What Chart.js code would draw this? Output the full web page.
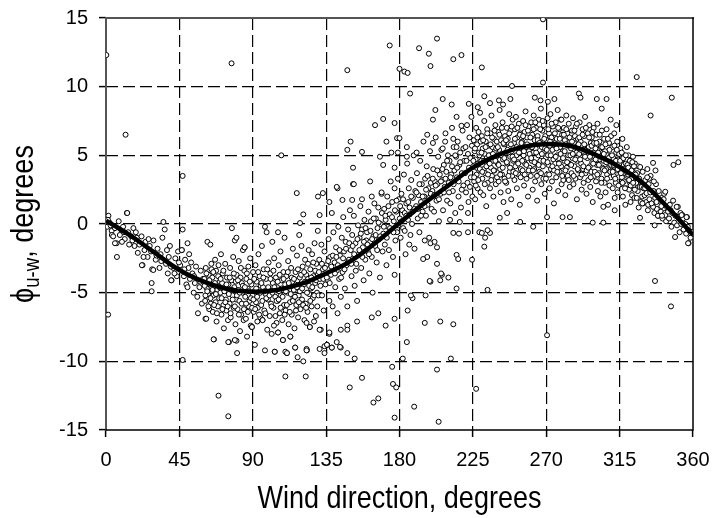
<!DOCTYPE html>
<html>
<head>
<meta charset="utf-8">
<script src="https://cdn.jsdelivr.net/npm/chart.js@4/dist/chart.umd.min.js"></script>
<style>
  html, body { margin: 0; padding: 0; background: #fff; }
  canvas { display: block; }
</style>
</head>
<body>
<canvas id="c" width="712" height="518"></canvas>
<script>
// ---------- DATA ----------
const xTicks = [0, 45, 90, 135, 180, 225, 270, 315, 360];
const yTicks = [-15, -10, -5, 0, 5, 10, 15];
const xTitle = 'Wind direction, degrees';
const yTitleMain = '\u03D5';
const yTitleSub = 'u-w';
const yTitleTail = ', degrees';

// fitted curve: [wind direction, phi]
const fitCurve = [
  [0,0.25],[15,-0.85],[30,-2.1],[45,-3.35],[60,-4.2],[75,-4.75],[90,-4.93],[105,-4.8],
  [120,-4.35],[135,-3.6],[150,-2.7],[165,-1.4],[180,0.07],[195,1.5],[210,2.8],[225,4.1],
  [240,5.0],[255,5.6],[270,5.83],[285,5.68],[300,5.05],[315,4.15],[330,2.9],[345,1.15],[360,-0.8]
];

// observations 0-60 deg
const obsNorthEast = [
  [0.3,0.4],[0.8,-0.2],[1.5,0.6],[2.2,0.1],[3.5,-0.5],[1.2,0.3],[5.5,-0.3],[6.5,-1.4],[7.8,0.2],[8.5,-0.8],
  [9.2,-0.4],[10.5,-0.2],[11.5,-1.1],[12.8,0.8],[13.6,-0.6],[14.2,-1.5],[15.5,-0.9],[16.8,-0.3],[17.5,-1.6],
  [18.9,-1.0],[19.5,-2.1],[20.5,-1.5],[21.8,-0.9],[22.4,-3.0],[23.6,-1.9],[24.2,-1.3],[25.5,-2.4],[26.8,-1.6],
  [27.6,-2.0],[28.3,-3.3],[29.1,-1.2],[30.5,-2.6],[31.6,-1.8],[32.8,-3.2],[33.5,-2.2],[34.6,-1.0],[35.2,0.15],
  [36.0,-0.4],[36.8,-2.9],[37.9,-3.6],[38.5,-2.4],[39.2,-1.6],[40.2,-4.1],[41.3,-3.2],[42.5,-2.5],[43.4,-3.8],
  [44.2,-2.0],[5.5,-1.4],[6.7,-2.4],[3.6,-0.8],[28,-4.3],[28,-4.9],[29,-3.35],[22,-3.0],[13,0.8],
  [45.5,-3.0],[46.5,-1.9],[47,-0.4],[47.8,-3.8],[48.5,-2.6],[49.3,-4.4],[50,-1.4],[50.6,-3.2],[51.5,-4.0],
  [52.2,-2.8],[53,-3.6],[53.8,-5.0],[54.5,-4.3],[55.2,-3.1],[56,-5.3],[56.4,-6.5],[57.3,-4.6],[58.1,-3.4],
  [58.8,-5.8],[59.5,-4.0],[46.5,-1.9],[50,-4.6],[40,-4.1],[61,-6.9],
  [2.8,-0.1],[4.4,-0.9],[9.8,-1.3],[11.0,-0.6],[16.2,-1.2],[18.3,-0.6],[23.0,-2.4],[26.1,-1.1],[31.0,-2.3],
  [33.9,-2.7],[37.4,-1.9],[39.8,-3.1],[42.0,-3.6],[44.7,-2.8],[48.0,-3.3],[51.0,-2.2],[54.0,-3.8],[57.8,-4.2]
];

// observations 60-130 deg
const obsEast = [
  [60.3,-4.0],[60.8,-5.6],[61.2,-3.2],[61.5,-6.9],[61.9,-4.7],[62.2,-1.3],[62.6,-5.1],[63.0,-3.7],[63.3,-6.2],[63.7,-4.4],[64.0,-1.5],[64.3,-5.8],[64.6,-2.9],[64.9,-4.9],
  [65.2,-3.9],[65.5,-6.4],[65.9,-5.2],[66.2,-8.4],[66.5,-4.5],[66.9,-2.6],[67.2,-5.7],[67.5,-3.4],[67.8,-7.1],[68.2,-4.8],[68.6,-6.0],[69.0,-3.0],[69.4,-5.4],[69.8,-4.2],
  [70.1,-5.0],[70.5,-2.2],[70.8,-6.6],[71.2,-4.3],[71.6,-3.6],[72.0,-5.9],[72.3,-7.6],[72.7,-4.7],[73.1,-2.9],[73.5,-5.5],[73.8,-6.3],[74.2,-3.9],[74.5,-4.9],[74.8,-7.0],
  [75.1,-4.4],[75.4,-8.6],[75.8,-5.8],[76.1,-3.2],[76.5,-6.8],[76.9,-4.1],[77.2,-0.3],[77.6,-5.2],[78.0,-2.4],[78.3,-6.1],[78.7,-4.6],[79.0,-1.2],[79.4,-7.3],[79.8,-5.5],
  [80.1,-3.7],[80.4,-9.4],[80.7,-6.2],[81.1,-4.8],[81.4,-2.7],[81.8,-5.6],[82.2,-7.8],[82.5,-3.9],[82.9,-6.6],[83.3,-4.3],[83.7,-5.0],[84.0,-1.9],[84.4,-7.0],[84.8,-3.4],
  [85.0,-1.7],[85.4,-5.3],[85.8,-6.9],[86.1,-4.0],[86.5,-8.2],[86.9,-4.7],[87.3,-3.1],[87.6,-6.0],[88.0,-5.6],[88.4,-2.5],[88.8,-7.4],[89.2,-4.4],[89.5,-7.5],[89.9,-5.2],
  [90.2,-3.5],[90.6,-6.4],[90.9,-4.9],[91.3,-8.8],[91.7,-3.0],[92.0,-5.7],[92.4,-4.2],[92.8,-7.1],[93.1,-6.1],[93.5,-2.2],[93.9,-5.0],[94.2,-3.8],[94.6,-6.8],[94.9,-4.5],
  [95.2,-5.9],[95.6,-1.6],[96.0,-7.0],[96.3,-4.6],[96.7,-3.3],[97.1,-6.3],[97.5,-9.2],[97.5,-0.2],[97.9,-5.1],[98.2,-4.0],[98.5,-0.6],[98.9,-7.7],[99.3,-5.5],[99.7,-2.8],
  [100.1,-4.8],[100.4,-6.7],[100.8,-3.6],[101.2,-5.8],[101.6,-8.0],[102.0,-1.3],[102.3,-4.3],[102.7,-6.1],[103.1,-2.5],[103.5,-9.3],[103.8,-5.3],[104.2,-3.9],[104.6,-7.2],[104.9,-4.6],
  [105.2,-5.6],[105.5,-7.9],[105.9,-3.0],[106.2,-4.9],[106.6,-6.5],[107.0,-2.0],[107.3,-5.2],[107.7,-4.1],[108.1,-7.0],[108.5,-8.45],[108.8,-3.5],[109.2,-5.9],[109.5,-1.0],[109.9,-4.4],
  [110.2,-6.3],[110.6,-3.8],[110.9,-9.4],[111.3,-5.0],[111.7,-2.7],[112.0,-7.3],[112.4,-4.5],[112.8,-5.7],[113.1,-8.2],[113.5,-3.2],[113.9,-6.6],[114.2,-4.2],[114.6,-1.8],[114.9,-5.4],
  [115.2,-4.8],[115.6,-7.6],[116.0,-9.0],[116.3,-3.5],[116.7,-5.9],[117.1,-2.3],[117.4,-4.1],[117.8,-6.8],[118.2,-5.2],[118.5,-0.8],[118.9,-3.9],[119.3,-6.2],[119.6,-4.6],[119.9,-1.6],
  [120.2,-5.5],[120.6,-3.1],[121.0,-10.0],[121.3,-4.4],[121.7,-7.0],[122.1,-2.6],[122.5,-5.8],[122.8,-3.7],[123.2,-9.2],[123.6,-6.4],[123.9,-4.0],[124.3,-1.9],[124.6,-5.1],[125.0,-7.5],
  [125.3,-3.3],[125.7,-4.7],[126.1,-6.0],[126.4,-2.2],[126.8,-5.4],[127.2,-3.8],[127.6,-7.1],[127.9,-1.4],[128.3,-4.3],[128.7,-6.7],[129.0,-2.9],[129.4,-5.0],[129.8,-3.6],[129.9,-0.5]
];

// dense core 60-130 deg
const obsEastCore = [
  [60.5,-4.5],[61.0,-5.2],[61.6,-3.6],[62.1,-4.9],[62.8,-6.0],[63.4,-4.1],[64.1,-5.4],[64.7,-3.3],
  [65.3,-4.8],[65.8,-3.5],[66.3,-5.9],[66.8,-4.3],[67.4,-5.1],[68.0,-6.5],[68.8,-3.8],[69.5,-4.6],
  [70.3,-4.0],[70.9,-5.4],[71.4,-6.2],[72.0,-3.4],[72.6,-4.9],[73.2,-5.7],[73.9,-4.4],[74.6,-6.0],
  [75.3,-5.1],[75.9,-3.9],[76.4,-6.5],[77.0,-4.8],[77.7,-5.5],[78.4,-3.6],[79.0,-6.0],[79.6,-4.2],
  [80.3,-5.2],[80.9,-4.1],[81.5,-6.6],[82.0,-5.0],[82.7,-3.2],[83.3,-5.8],[83.9,-4.5],[84.6,-6.2],
  [85.2,-4.6],[85.9,-5.8],[86.4,-3.6],[87.0,-6.4],[87.6,-4.9],[88.2,-4.2],[88.9,-5.4],[89.6,-6.1],
  [90.4,-5.5],[90.9,-4.0],[91.5,-6.2],[92.1,-4.7],[92.7,-5.3],[93.3,-3.5],[93.9,-6.6],[94.6,-5.0],
  [95.3,-4.3],[95.9,-5.6],[96.5,-3.9],[97.1,-4.9],[97.7,-6.5],[98.3,-5.4],[98.9,-3.3],[99.5,-4.6],
  [100.3,-5.2],[100.9,-4.0],[101.5,-6.0],[102.1,-5.0],[102.7,-3.4],[103.3,-4.6],[103.9,-6.7],[104.6,-5.6],
  [105.3,-4.2],[105.9,-5.5],[106.5,-3.7],[107.1,-6.1],[107.7,-4.7],[108.3,-5.3],[108.9,-4.0],[109.6,-6.6],
  [110.3,-4.9],[110.9,-5.9],[111.5,-3.5],[112.1,-4.3],[112.7,-6.4],[113.3,-5.1],[113.9,-3.9],[114.6,-5.6],
  [115.3,-4.0],[115.9,-5.3],[116.5,-6.3],[117.1,-4.6],[117.7,-3.3],[118.3,-5.7],[118.9,-4.9],[119.6,-3.7],
  [120.3,-4.7],[120.9,-5.9],[121.5,-3.5],[122.1,-4.2],[122.7,-6.1],[123.3,-5.0],[123.9,-2.9],[124.6,-4.5],
  [125.3,-5.6],[125.9,-3.9],[126.5,-4.6],[127.1,-2.8],[127.7,-5.2],[128.3,-3.4],[128.9,-4.1],[129.6,-6.0]
];

// observations 130-220 deg
const obsSouth = [
  [130.3,-5.2],[130.8,-2.6],[131.2,-4.0],[131.7,-7.7],[132.1,-1.5],[132.5,-5.2],[133,-3.3],[133.5,-6.3],[134,-2.0],[134.6,-4.4],
  [135.2,-3.0],[135.6,-8.8],[136.1,-4.1],[136.5,-1.1],[137.0,-5.6],[137.5,-2.4],[138.0,-3.7],[138.5,-9.0],[139.0,-6.0],[139.5,-0.6],
  [140.2,-2.8],[140.6,-4.6],[141.1,-1.7],[141.5,-3.4],[142.0,-6.5],[142.5,-0.2],[143.0,-4.0],[143.5,-2.3],[144.0,-5.3],[144.6,-1.0],
  [145.1,-3.5],[145.5,0.5],[146.0,-2.0],[146.5,-4.7],[147.0,-1.3],[147.5,-3.0],[148.0,-6.0],[148.5,-0.4],[149.0,-2.6],[149.6,1.0],
  [150.1,-1.9],[150.6,-3.8],[151.0,-0.8],[151.5,-2.5],[152.0,0.6],[152.5,-4.5],[153.0,-1.4],[153.5,-2.9],[154.0,-5.6],[154.6,-0.1],
  [155.1,-2.2],[155.5,-1.0],[156.0,1.3],[156.5,-3.2],[157.0,-0.4],[157.5,-1.7],[158.0,-4.1],[158.5,0.3],[159.0,-2.6],[159.6,-1.2],
  [160.1,-0.6],[160.6,-2.0],[161.0,0.9],[161.5,-3.6],[162.0,-1.3],[162.5,0.2],[163.0,-2.4],[163.5,-5.0],[164.0,-0.9],[164.6,1.5],
  [165.1,-1.6],[165.5,0.4],[166.0,-2.8],[166.5,-0.3],[167.0,1.2],[167.5,-1.1],[168.0,-3.9],[168.5,0.0],[169.0,2.2],[169.6,-2.0],
  [170.1,-0.7],[170.6,1.1],[171.0,-1.5],[171.5,0.3],[172.0,-3.0],[172.5,2.0],[173.0,-0.2],[173.5,-1.9],[174.0,0.7],[174.6,3.1],
  [175.1,-0.4],[175.5,1.6],[176.0,-2.4],[176.5,0.2],[177.0,2.6],[177.5,-1.2],[178.0,0.9],[178.5,-0.6],[179.0,3.3],[179.6,1.8],
  [180.2,0.4],[180.7,-1.0],[181.2,2.2],[181.7,1.0],[182.2,-0.3],[182.7,3.6],[183.2,0.8],[183.7,-2.2],[184.2,1.5],[184.7,4.4],
  [185.2,0.3],[185.7,2.6],[186.2,1.2],[186.7,-0.8],[187.2,3.2],[187.7,0.0],[188.2,1.9],[188.7,5.0],[189.2,-1.8],[189.7,2.4],
  [190.2,1.3],[190.7,3.7],[191.2,0.4],[191.7,2.1],[192.2,-0.6],[192.7,4.6],[193.2,1.6],[193.7,2.9],[194.2,0.9],[194.7,6.0],
  [195.2,2.0],[195.7,3.3],[196.2,0.6],[196.7,4.2],[197.2,1.4],[197.7,2.6],[198.2,-1.0],[198.7,5.3],[199.2,3.0],[199.7,1.1],
  [200.2,2.4],[200.7,4.0],[201.2,0.9],[201.7,3.1],[202.2,6.3],[202.7,1.7],[203.2,2.9],[203.7,4.9],[204.2,0.2],[204.7,3.6],
  [205.2,2.2],[205.7,5.4],[206.2,3.2],[206.7,1.0],[207.2,4.3],[207.7,2.7],[208.2,6.6],[208.7,3.8],[209.2,1.7],[209.7,5.0],
  [210.2,3.0],[210.7,4.6],[211.2,1.5],[211.7,3.6],[212.2,7.0],[212.7,2.4],[213.2,5.6],[213.7,3.9],[214.2,0.8],[214.7,4.9],
  [215.2,3.4],[215.7,6.0],[216.2,2.0],[216.7,4.3],[217.2,5.2],[217.7,1.2],[218.2,3.7],[218.7,6.8],[219.2,2.8],[219.7,4.6]
];

// dense core 130-220 deg
const obsSouthCore = [
  [130.6,-3.5],[131.5,-4.5],[132.4,-2.9],[133.3,-4.0],[134.3,-3.2],[135.4,-3.9],[136.3,-2.7],[137.2,-4.3],[138.2,-3.1],[139.1,-2.3],
  [140.4,-3.6],[141.3,-2.4],[142.2,-3.0],[143.2,-1.9],[144.2,-3.9],[145.4,-2.5],[146.3,-3.3],[147.2,-1.8],[148.2,-2.8],[149.2,-1.4],
  [150.4,-2.9],[151.3,-1.6],[152.2,-2.2],[153.2,-3.4],[154.2,-1.1],[155.4,-1.9],[156.3,-0.7],[157.2,-2.4],[158.2,-1.3],[159.2,-0.3],
  [160.4,-1.5],[161.3,-2.2],[162.2,-0.5],[163.2,-1.1],[164.2,0.4],[165.4,-0.8],[166.3,-1.9],[167.2,0.1],[168.2,-0.9],[169.2,0.8],
  [170.4,-0.2],[171.3,0.6],[172.2,-1.0],[173.2,1.3],[174.2,-0.3],[175.4,0.5],[176.3,-0.6],[177.2,1.0],[178.2,1.7],[179.2,-0.1],
  [180.4,1.3],[181.3,0.2],[182.2,1.8],[183.2,-0.5],[184.2,0.6],[185.4,1.6],[186.3,0.7],[187.2,2.0],[188.2,0.9],[189.2,1.1],
  [190.4,2.3],[191.3,1.1],[192.2,2.9],[193.2,0.6],[194.2,2.0],[195.4,1.3],[196.3,2.5],[197.2,3.5],[198.2,1.9],[199.2,2.2],
  [200.4,3.3],[201.3,2.1],[202.2,2.8],[203.2,3.9],[204.2,1.8],[205.4,3.1],[206.3,4.0],[207.2,2.3],[208.2,3.3],[209.2,4.6],
  [210.4,2.3],[211.3,3.4],[212.2,4.2],[213.2,2.9],[214.2,5.0],[215.4,4.1],[216.3,3.1],[217.2,4.5],[218.2,2.5],[219.2,5.5]
];

// observations 220-330 deg
const obsWest = [
  [220.2,3.7],[220.5,5.6],[220.8,2.3],[221.1,4.6],[221.4,7.2],[221.7,3.0],[222.0,5.1],[222.3,1.6],[222.6,4.1],[222.9,6.3],[223.2,2.7],[223.5,4.8],[223.8,3.4],[224.1,7.8],[224.4,5.7],[224.7,2.0],
  [225.2,4.2],[225.5,6.1],[225.8,3.1],[226.1,5.3],[226.4,1.8],[226.7,4.7],[227.0,7.0],[227.3,3.6],[227.6,5.8],[227.9,2.6],[228.2,4.4],[228.5,6.7],[228.8,3.9],[229.1,5.0],[229.4,8.1],[229.7,2.3],
  [230.2,4.6],[230.5,6.4],[230.8,3.3],[231.1,5.5],[231.4,2.1],[231.7,4.0],[232.0,7.5],[232.3,5.1],[232.6,3.7],[232.9,6.0],[233.2,1.3],[233.5,4.8],[233.8,6.9],[234.1,3.0],[234.4,5.7],[234.7,4.3],
  [235.2,5.0],[235.5,2.6],[235.8,6.6],[236.1,4.1],[236.4,7.9],[236.7,3.5],[237.0,5.6],[237.3,4.6],[237.6,2.0],[237.9,6.2],[238.2,3.9],[238.5,5.3],[238.8,7.2],[239.1,2.9],[239.4,4.9],[239.7,6.0],
  [240.2,4.4],[240.5,6.7],[240.8,3.1],[241.1,5.4],[241.4,8.3],[241.7,4.0],[242.0,2.3],[242.3,6.1],[242.6,5.0],[242.9,3.6],[243.2,7.4],[243.5,4.7],[243.8,1.6],[244.1,5.8],[244.4,3.3],[244.7,6.4],
  [245.2,5.2],[245.5,3.0],[245.8,7.0],[246.1,4.4],[246.4,6.2],[246.7,2.4],[247.0,5.6],[247.3,8.0],[247.6,3.8],[247.9,4.9],[248.2,6.8],[248.5,1.8],[248.8,5.3],[249.1,3.5],[249.4,7.6],[249.7,4.6],
  [250.2,5.9],[250.5,3.2],[250.8,6.9],[251.1,4.2],[251.4,7.8],[251.7,5.0],[252.0,2.6],[252.3,6.3],[252.6,4.5],[252.9,3.6],[253.2,7.3],[253.5,5.5],[253.8,1.4],[254.1,6.6],[254.4,4.0],[254.7,5.2],
  [255.2,6.0],[255.5,3.9],[255.8,7.5],[256.1,5.0],[256.4,2.8],[256.7,6.7],[257.0,4.4],[257.3,8.2],[257.6,5.6],[257.9,3.3],[258.2,6.3],[258.5,4.8],[258.8,2.0],[259.1,7.1],[259.4,5.3],[259.7,4.1],
  [260.2,5.7],[260.5,3.5],[260.8,7.4],[261.1,4.6],[261.4,6.5],[261.7,2.5],[262.0,5.2],[262.3,7.9],[262.6,4.0],[262.9,6.1],[263.2,3.1],[263.5,5.5],[263.8,7.0],[264.1,4.4],[264.4,1.7],[264.7,6.4],
  [265.2,5.0],[265.5,7.6],[265.8,3.8],[266.1,6.0],[266.4,4.6],[266.7,8.4],[267.0,2.9],[267.3,5.6],[267.6,6.8],[267.9,4.2],[268.2,3.3],[268.5,7.2],[268.8,5.3],[269.1,2.2],[269.4,6.4],[269.7,4.8],
  [270.2,6.1],[270.5,3.6],[270.8,7.7],[271.1,5.0],[271.4,4.3],[271.7,6.6],[272.0,2.6],[272.3,5.7],[272.6,8.0],[272.9,4.0],[273.2,6.3],[273.5,3.1],[273.8,5.4],[274.1,7.1],[274.4,4.7],[274.7,1.5],
  [275.2,5.9],[275.5,4.4],[275.8,7.4],[276.1,3.4],[276.4,6.2],[276.7,5.0],[277.0,8.3],[277.3,2.4],[277.6,4.8],[277.9,6.9],[278.2,3.8],[278.5,5.6],[278.8,7.6],[279.1,4.2],[279.4,2.9],[279.7,6.5],
  [280.2,5.3],[280.5,3.2],[280.8,7.0],[281.1,4.6],[281.4,6.1],[281.7,2.1],[282.0,5.8],[282.3,7.9],[282.6,4.1],[282.9,6.6],[283.2,3.5],[283.5,5.0],[283.8,7.3],[284.1,4.4],[284.4,2.7],[284.7,6.0],
  [285.2,5.5],[285.5,3.7],[285.8,6.8],[286.1,4.8],[286.4,7.7],[286.7,2.9],[287.0,5.9],[287.3,4.2],[287.6,6.4],[287.9,3.3],[288.2,7.1],[288.5,5.2],[288.8,1.8],[289.1,4.6],[289.4,6.2],[289.7,3.9],
  [290.2,5.1],[290.5,7.4],[290.8,3.4],[291.1,6.0],[291.4,4.4],[291.7,2.5],[292.0,5.7],[292.3,6.9],[292.6,4.0],[292.9,3.0],[293.2,6.4],[293.5,5.0],[293.8,7.8],[294.1,3.7],[294.4,5.4],[294.7,2.2],
  [295.2,4.8],[295.5,6.6],[295.8,3.2],[296.1,5.6],[296.4,7.2],[296.7,4.2],[297.0,2.7],[297.3,5.9],[297.6,3.8],[297.9,6.3],[298.2,4.5],[298.5,1.6],[298.8,5.2],[299.1,7.0],[299.4,3.5],[299.7,4.9],
  [300.2,5.5],[300.5,3.1],[300.8,6.5],[301.1,4.3],[301.4,7.3],[301.7,2.4],[302.0,5.0],[302.3,3.7],[302.6,6.0],[302.9,4.7],[303.2,2.0],[303.5,5.6],[303.8,3.3],[304.1,6.8],[304.4,4.1],[304.7,5.2],
  [305.2,4.6],[305.5,6.2],[305.8,3.0],[306.1,5.3],[306.4,2.3],[306.7,4.0],[307.0,6.9],[307.3,3.6],[307.6,5.0],[307.9,1.4],[308.2,4.4],[308.5,5.9],[308.8,2.8],[309.1,4.9],[309.4,3.4],[309.7,6.4],
  [310.2,4.2],[310.5,5.6],[310.8,2.6],[311.1,4.8],[311.4,3.5],[311.7,6.6],[312.0,1.9],[312.3,4.5],[312.6,3.0],[312.9,5.2],[313.2,3.9],[313.5,6.0],[313.8,2.3],[314.1,4.7],[314.4,3.4],[314.7,5.1],
  [315.2,4.0],[315.5,5.5],[315.8,2.9],[316.1,4.6],[316.4,3.4],[316.7,6.2],[317.0,2.0],[317.3,4.3],[317.6,3.1],[317.9,5.0],[318.2,3.7],[318.5,1.4],[318.8,4.4],[319.1,2.6],[319.4,5.6],[319.7,3.5],
  [320.2,3.6],[320.5,5.0],[320.8,2.5],[321.1,4.2],[321.4,3.0],[321.7,1.6],[322.0,4.7],[322.3,3.3],[322.6,2.1],[322.9,4.0],[323.2,4.9],[323.5,2.8],[323.8,3.7],[324.1,1.9],[324.4,4.4],[324.7,3.1],
  [325.2,3.0],[325.5,1.9],[325.8,3.7],[326.1,2.4],[326.4,4.2],[326.7,1.2],[327.0,3.3],[327.3,2.7],[327.6,4.15],[327.9,1.6],[328.2,3.0],[328.5,2.7],[328.8,2.0],[329.1,3.8],[329.4,1.5],[329.7,2.6]
];

// dense core 225-325 deg
const obsWestCore = [
  [225.3,4.6],[225.8,3.4],[226.3,5.5],[226.8,2.8],[227.3,4.1],[227.8,6.3],[228.3,3.2],[228.8,5.2],[229.3,4.0],[229.8,6.0],
  [230.3,5.2],[230.8,3.8],[231.3,6.1],[231.8,4.6],[232.3,2.9],[232.8,5.6],[233.3,4.2],[233.8,6.6],[234.3,3.6],[234.8,5.0],
  [235.3,4.4],[235.8,5.8],[236.3,3.2],[236.8,6.3],[237.3,5.1],[237.8,3.9],[238.3,6.8],[238.8,4.6],[239.3,5.5],[239.8,3.4],
  [240.3,5.6],[240.8,4.3],[241.3,6.5],[241.8,3.6],[242.3,5.0],[242.8,7.0],[243.3,4.1],[243.8,5.9],[244.3,4.8],[244.8,3.1],
  [245.3,6.1],[245.8,4.5],[246.3,5.4],[246.8,3.5],[247.3,6.6],[247.8,4.1],[248.3,5.8],[248.8,7.1],[249.3,4.9],[249.8,3.8],
  [250.3,4.7],[250.8,6.2],[251.3,3.7],[251.8,5.6],[252.3,7.0],[252.8,4.4],[253.3,5.2],[253.8,6.5],[254.3,3.4],[254.8,5.9],
  [255.3,4.6],[255.8,6.4],[256.3,5.3],[256.8,3.6],[257.3,7.2],[257.8,4.3],[258.3,5.8],[258.8,6.8],[259.3,3.9],[259.8,5.1],
  [260.3,6.3],[260.8,4.8],[261.3,5.6],[261.8,3.9],[262.3,6.9],[262.8,4.5],[263.3,7.4],[263.8,5.2],[264.3,3.5],[264.8,6.1],
  [265.3,4.3],[265.8,5.9],[266.3,6.9],[266.8,3.7],[267.3,5.1],[267.8,7.5],[268.3,4.6],[268.8,6.2],[269.3,5.5],[269.8,3.3],
  [270.3,5.4],[270.8,4.5],[271.3,6.9],[271.8,3.6],[272.3,6.0],[272.8,5.0],[273.3,7.3],[273.8,4.2],[274.3,5.8],[274.8,3.9],
  [275.3,6.6],[275.8,4.9],[276.3,5.5],[276.8,3.8],[277.3,7.0],[277.8,4.4],[278.3,6.2],[278.8,5.1],[279.3,7.6],[279.8,3.5],
  [280.3,4.8],[280.8,6.5],[281.3,5.3],[281.8,3.9],[282.3,6.9],[282.8,4.5],[283.3,5.7],[283.8,3.2],[284.3,6.3],[284.8,5.0],
  [285.3,4.3],[285.8,6.0],[286.3,5.1],[286.8,3.5],[287.3,6.8],[287.8,4.7],[288.3,5.6],[288.8,7.3],[289.3,4.0],[289.8,5.8],
  [290.3,6.3],[290.8,4.7],[291.3,5.4],[291.8,3.6],[292.3,6.5],[292.8,4.2],[293.3,5.8],[293.8,4.9],[294.3,7.0],[294.8,3.9],
  [295.3,5.3],[295.8,4.1],[296.3,6.3],[296.8,4.9],[297.3,3.4],[297.8,5.7],[298.3,6.7],[298.8,4.4],[299.3,5.9],[299.8,3.8],
  [300.3,4.7],[300.8,5.9],[301.3,3.6],[301.8,5.2],[302.3,4.3],[302.8,6.5],[303.3,4.9],[303.8,3.0],[304.3,5.6],[304.8,4.0],
  [305.3,5.1],[305.8,3.9],[306.3,5.8],[306.8,4.5],[307.3,3.3],[307.8,6.2],[308.3,4.8],[308.8,5.4],[309.3,3.8],[309.8,4.3],
  [310.3,5.0],[310.8,3.8],[311.3,4.3],[311.8,5.7],[312.3,3.3],[312.8,4.6],[313.3,5.4],[313.8,4.0],[314.3,2.8],[314.8,4.4],
  [315.3,4.6],[315.8,3.7],[316.3,5.2],[316.8,3.0],[317.3,4.8],[317.8,4.0],[318.3,2.6],[318.8,5.0],[319.3,3.8],[319.8,4.3],
  [320.3,4.1],[320.8,3.2],[321.3,4.6],[321.8,2.8],[322.3,3.9],[322.8,4.5],[323.3,3.0],[323.8,4.2],[324.3,2.5],[324.8,3.6]
];

// observations 330-360 deg
const obsNorthWest = [
  [330.3,2.1],[330.8,3.2],[331.3,1.6],[331.8,2.6],[332.3,1.0],[332.8,2.9],[333.3,1.8],[334.0,3.5],
  [335.3,1.3],[335.8,2.4],[336.3,0.8],[336.8,1.9],[337.3,2.9],[337.8,1.1],[338.5,0.6],[339.2,1.7],
  [340.3,0.9],[340.8,1.9],[341.3,0.4],[341.8,1.4],[342.3,2.2],[342.8,0.8],[343.5,0.2],[344.2,1.2],
  [345.3,0.4],[345.8,1.4],[346.3,1.0],[346.8,-0.2],[347.3,0.8],[347.8,1.7],[348.5,0.1],[349.2,0.6],
  [350.2,-0.1],[350.7,1.25],[351.3,0.4],[351.8,-0.6],[352.3,0.8],[352.8,0.0],[353.5,0.65],[354.2,-0.4],
  [355.3,0.0],[355.8,-0.7],[356.3,0.5],[356.8,-0.2],[357.3,-1.4],[357.8,-0.5],[358.5,-1.0],[359.2,-0.6],
  [348,4.3],[351,4.5],[343,2.35],[335.5,4.45],[337,3.9],[333,3.3],[332,4.0],[349,-0.95],[357,-1.4],
  [354,0.4],[356,0.5],[353,0.65],[350,1.25],[346,1.0],[343,0.65],[338.5,0.6],[341,0.6],[335.5,1.25],
  [332.5,1.4],[329,1.5],[331.5,2.25],[336.7,-4.15],[346.5,-6.0],
  [330.6,2.6],[331.9,3.4],[333.8,2.3],[334.6,1.5],[336.0,3.1],[337.6,1.6],[339.0,2.4],[340.6,1.3],[342.0,1.8],[344.7,0.9]
];

// scattered outliers
const obsOutliers = [
  [0.2,12.3],[12,6.5],[47,3.5],[1.3,-6.6],[47,-9.9],[69,-12.5],[75,-14],[77,11.7],[66,-8.4],[75,-8.6],[80,-8.5],
  [107.5,5.0],[117,2.25],[121,0.7],[130,2.0],[133,2.25],[137,1.6],[142,2.6],[145,1.75],[151,1.75],[157,1.8],
  [151.5,2.9],[151.5,4.1],[150,6.0],[148,5.4],[157,5.25],[165,7.2],[170,7.65],[172,6.0],[177,7.35],[178.5,6.25],
  [180,6.25],[168,4.9],[170,4.3],[175,5.2],[177,4.1],[179,5.2],[184.5,5.6],[184.5,4.9],[190.5,5.2],[197,6.5],
  [200.5,5.9],[163,2.0],[169,2.3],[162,3.1],
  [199,-1.4],[203,-1.7],[197,-2.4],[206,-3.7],[205,-4.1],[199,-4.2],[196,-5.2],[188,-5.4],[177,-3.7],[186,-1.5],
  [174,13.0],[192,12.8],[203,13.5],[198,12.4],[199,11.5],[213,12.0],[218,12.3],[230.5,11.4],[180,11.3],[183,11.1],
  [185,11.0],[148,11.2],[186.5,9.5],[206.5,9.1],[212,8.7],[202,8.3],[222.5,8.75],[228,8.5],[232,9.3],[200.5,7.6],
  [215,7.8],[218,7.15],
  [110,-11.1],[122.5,-11.1],[149.5,-11.9],[157,-11.2],[164,-13.0],[167,-12.7],[175.5,-10.4],[176,-11.65],[178,-11.9],
  [177,-14.1],[189,-13.3],[203,-10.6],[204,-14.4],[227,-12.0],[182,-9.8],[211.5,-9.8],[152.5,-9.8],[184.5,-8.6],
  [195.5,-7.2],[205,-7.1],[213,-7.3],[185,-6.3],[177,-6.9],[171.5,-7.4],[163,-6.8],[167,-6.5],[154,-7.1],[148,-7.4],
  [148,-7.7],[144,-7.7],[141.5,-8.6],[144,-9.0],[148,-9.4],[137,-8.0],[134,-8.9],[131,-9.1],[134,-9.4],[123,-9.1],
  [117.5,-9.7],[110,-9.3],[113,-8.2],[105.5,-7.9],[103,-7.4],
  [249,10.05],[268,10.3],[235.5,8.8],[241,9.0],[243.5,8.7],[248,9.1],[263,9.2],[266.5,9.0],[271,8.9],[275,9.1],
  [290,9.5],[291,9.2],[301,9.1],[307,9.1],[304,8.4],[309.5,7.6],[208,6.0],[213,6.2],[215,5.6],[206.5,5.5],
  [211,0.3],[217,0.15],[222,0.8],[241.5,0.45],[246,0.8],[254,0.15],[262,-0.2],[280,0.5],[284.5,0.5],[298.5,0.1],
  [305,0.1],[270.5,0.5],[213,-0.65],[216.5,-0.7],[222,-0.6],[229,-0.6],[235.5,-0.65],[232.5,-1.0],[232,-1.65],
  [325.5,10.7],[347,9.2],[334,7.9],[313,7.2],[268,14.9],[270.5,-8.1],[234,-4.8],
  [327.5,0.45],[336.5,-0.1],[312,1.0],[305,1.25],
  [195.5,-1.2],[201.5,-1.3],[198.5,-4.15],[210,-3.9],[205.5,-3.6],[194.5,-2.55],[203,-2.9],[215,-2.25],[216,-2.55],
  [224.5,-2.6],[215,-4.7],[187,-5.2],[230.5,-0.65],[234,-0.45],
  [141.5,2.7],[152,2.9],[138.5,0.8],[131,0.65],[119,0.07],[105.5,-0.6],[80,-1.0],[85,-1.7],
  [79,-8.45],[89.5,-7.5],[96,-7.0],[103.5,-9.3],[111,-9.4],[116,-9.0],[108.5,-8.45],[123,-9.2],[131,-7.7],[137,-7.9],
  [143.5,-8.95],[138.5,-9.0],[135.5,-8.8],[123,-7.2],[125,-7.5]
];

// ---------- CHART ----------
const toXY = arr => arr.map(p => ({x: p[0], y: p[1]}));
const observations = toXY([].concat(obsNorthEast, obsEast, obsEastCore, obsSouth, obsSouthCore,
                                    obsWest, obsWestCore, obsNorthWest, obsOutliers));
const curvePts = toXY(fitCurve);

const BASE_FONT = '"Liberation Sans", Arial, Helvetica, sans-serif';
const TITLE_SIZE = 32;
const SUB_SIZE = 22;
const TITLE_SQUEEZE = 0.845;

const framePlugin = {
  id: 'frame',
  beforeDatasetsDraw(chart) {
    const {ctx, chartArea: a} = chart;
    ctx.save();
    ctx.lineCap = 'square';
    ctx.strokeStyle = '#555';
    ctx.lineWidth = 2;
    ctx.beginPath();
    ctx.moveTo(a.left, a.bottom); ctx.lineTo(a.left, a.top); ctx.lineTo(a.right, a.top);
    ctx.stroke();
    ctx.strokeStyle = '#000';
    ctx.lineWidth = 1.5;
    ctx.beginPath();
    ctx.moveTo(a.right, a.top); ctx.lineTo(a.right, a.bottom); ctx.lineTo(a.left, a.bottom);
    ctx.stroke();
    ctx.restore();
  }
};

const titlePlugin = {
  id: 'axisTitles',
  afterDraw(chart) {
    const {ctx, chartArea: a} = chart;
    ctx.save();
    ctx.fillStyle = '#000';
    ctx.textBaseline = 'alphabetic';
    // x title
    ctx.font = TITLE_SIZE + 'px ' + BASE_FONT;
    ctx.textAlign = 'center';
    ctx.save();
    ctx.translate((a.left + a.right) / 2, chart.scales.x.bottom - 10);
    ctx.scale(TITLE_SQUEEZE, 1);
    ctx.fillText(xTitle, 0, 0);
    ctx.restore();
    // y title with subscript
    ctx.textAlign = 'left';
    const parts = [
      {t: yTitleMain, s: TITLE_SIZE, dy: 0},
      {t: yTitleSub, s: SUB_SIZE, dy: 6},
      {t: yTitleTail, s: TITLE_SIZE, dy: 0}
    ];
    let total = 0;
    parts.forEach(p => { ctx.font = p.s + 'px ' + BASE_FONT; p.w = ctx.measureText(p.t).width; total += p.w; });
    ctx.save();
    ctx.translate(chart.scales.y.left + 33, (a.top + a.bottom) / 2);
    ctx.rotate(-Math.PI / 2);
    ctx.scale(TITLE_SQUEEZE, 1);
    let x = -total / 2;
    parts.forEach(p => { ctx.font = p.s + 'px ' + BASE_FONT; ctx.fillText(p.t, x, p.dy); x += p.w; });
    ctx.restore();
    ctx.restore();
  }
};

const isEdge = (v, arr) => v === arr[0] || v === arr[arr.length - 1];

new Chart(document.getElementById('c'), {
  type: 'scatter',
  data: {
    datasets: [
      {
        type: 'line',
        data: curvePts,
        borderColor: '#000',
        borderWidth: 4.5,
        pointRadius: 0,
        tension: 0.4,
        fill: false,
        order: 0
      },
      {
        data: observations,
        pointRadius: 2.5,
        pointBorderWidth: 1,
        pointBackgroundColor: '#fff',
        pointBorderColor: '#000',
        order: 1
      }
    ]
  },
  options: {
    responsive: false,
    animation: false,
    layout: { padding: { top: 18, right: 19, left: 0, bottom: 0 } },
    plugins: { legend: { display: false }, tooltip: { enabled: false } },
    scales: {
      x: {
        type: 'linear',
        min: 0, max: 360,
        afterBuildTicks: s => { s.ticks = xTicks.map(v => ({value: v})); },
        afterFit: s => { s.height = 88; s.paddingLeft = 0; s.paddingRight = 0; },
        ticks: { color: '#000', font: { size: 20, family: BASE_FONT }, padding: 11, maxRotation: 0 },
        grid: {
          color: c => (c.tick && isEdge(c.tick.value, xTicks)) ? 'rgba(0,0,0,0)' : '#000',
          lineWidth: 1.2,
          tickLength: 7,
          tickColor: '#000',
          tickWidth: 1.5
        },
        border: { display: false, dash: [12, 5] }
      },
      y: {
        type: 'linear',
        min: -15, max: 15,
        afterBuildTicks: s => { s.ticks = yTicks.map(v => ({value: v})); },
        afterFit: s => { s.width = 106; s.paddingTop = 0; s.paddingBottom = 0; },
        ticks: { color: '#000', font: { size: 20, family: BASE_FONT }, padding: 11 },
        grid: {
          color: c => (c.tick && isEdge(c.tick.value, yTicks)) ? 'rgba(0,0,0,0)' : '#000',
          lineWidth: 1.2,
          tickLength: 7,
          tickColor: '#000',
          tickWidth: 1.5
        },
        border: { display: false, dash: [12, 5] }
      }
    }
  },
  plugins: [framePlugin, titlePlugin]
});
</script>
</body>
</html>
